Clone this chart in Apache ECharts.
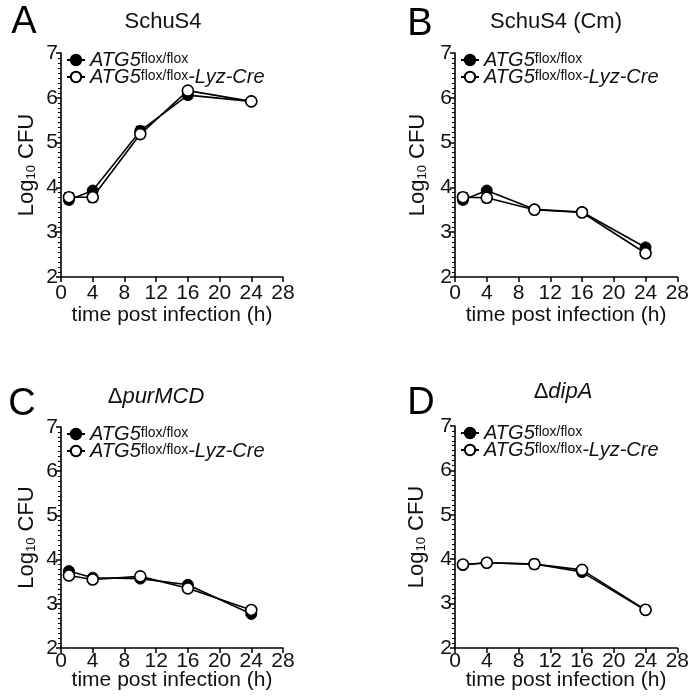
<!DOCTYPE html>
<html>
<head>
<meta charset="utf-8">
<script src="https://cdn.jsdelivr.net/npm/echarts@6/dist/echarts.min.js"></script>
<style>html,body{margin:0;padding:0;background:#fff;}#c{width:692px;height:698px;}</style>
</head>
<body>
<div id="c"></div>
<script>
// ---- data ----
const times = [1, 4, 10, 16, 24];
const xTicks = [0, 4, 8, 12, 16, 20, 24, 28];
const yTicks = [2, 3, 4, 5, 6, 7];
const panelLetters = ['A', 'B', 'C', 'D'];
const panelTitles = ['SchuS4', 'SchuS4 (Cm)', 'ΔpurMCD', 'ΔdipA'];
const seriesNames = ['ATG5 flox/flox', 'ATG5 flox/flox-Lyz-Cre'];

const aFlox = [3.72, 3.93, 5.26, 6.06, 5.92];
const aFloxErr = [0.08, 0.04, 0.10, 0.08, 0.03];
const aCre = [3.78, 3.78, 5.19, 6.16, 5.92];
const aCreErr = [0.10, 0.10, 0.08, 0.05, 0.03];

const bFlox = [3.72, 3.93, 3.51, 3.45, 2.66];
const bFloxErr = [0.08, 0.04, 0.03, 0.03, 0.03];
const bCre = [3.78, 3.77, 3.50, 3.44, 2.53];
const bCreErr = [0.10, 0.10, 0.03, 0.03, 0.03];

const cFlox = [3.74, 3.59, 3.57, 3.43, 2.77];
const cFloxErr = [0.04, 0.03, 0.03, 0.04, 0.03];
const cCre = [3.64, 3.55, 3.62, 3.35, 2.86];
const cCreErr = [0.05, 0.03, 0.03, 0.08, 0.03];

const dFlox = [3.87, 3.92, 3.89, 3.71, 2.85];
const dFloxErr = [0.05, 0.03, 0.10, 0.08, 0.03];
const dCre = [3.88, 3.92, 3.89, 3.76, 2.86];
const dCreErr = [0.05, 0.03, 0.08, 0.05, 0.08];

const panels = [
  {flox: aFlox, floxErr: aFloxErr, cre: aCre, creErr: aCreErr},
  {flox: bFlox, floxErr: bFloxErr, cre: bCre, creErr: bCreErr},
  {flox: cFlox, floxErr: cFloxErr, cre: cCre, creErr: cCreErr},
  {flox: dFlox, floxErr: dFloxErr, cre: dCre, creErr: dCreErr}
];

// ---- layout ----
const FONT = '"Liberation Sans", Arial, Helvetica, sans-serif';
const grids = [
  {left: 61, top: 53, width: 222, height: 224},
  {left: 455, top: 53, width: 223, height: 224},
  {left: 61, top: 427, width: 222, height: 221},
  {left: 455, top: 426, width: 223, height: 222}
];
const yNameGap = [23, 26, 23, 27];
const xNameGap = [28, 28, 22, 22];
const xLabelMargin = [6, 6, 3, 3];
const letterPos = [[24, 23], [420, 25], [22, 405], [421, 404]];
const titlePos = [[163, 22], [556, 22], [156, 397], [563, 392]];

const chart = echarts.init(document.getElementById('c'), null, {renderer: 'canvas'});

const xAxes = [], yAxes = [], series = [], legends = [], graphics = [];

function errRender(params, api) {
  const x = api.value(0), y = api.value(1), e = api.value(2);
  const p1 = api.coord([x, y + e]);
  const p2 = api.coord([x, y - e]);
  const hw = 4.5;
  const st = {stroke: '#000', lineWidth: 1.5};
  return {
    type: 'group',
    children: [
      {type: 'line', shape: {x1: p1[0], y1: p1[1], x2: p2[0], y2: p2[1]}, style: st},
      {type: 'line', shape: {x1: p1[0] - hw, y1: p1[1], x2: p1[0] + hw, y2: p1[1]}, style: st},
      {type: 'line', shape: {x1: p2[0] - hw, y1: p2[1], x2: p2[0] + hw, y2: p2[1]}, style: st}
    ]
  };
}

panels.forEach((p, i) => {
  xAxes.push({
    type: 'value', gridIndex: i, min: xTicks[0], max: xTicks[xTicks.length - 1], interval: 4,
    name: 'time post infection (h)', nameLocation: 'middle', nameGap: xNameGap[i], nameMoveOverlap: false,
    nameTextStyle: {fontFamily: FONT, fontSize: 21, color: '#111'},
    axisLine: {lineStyle: {color: '#000', width: 1.6}},
    axisTick: {show: true, length: 5, lineStyle: {color: '#000', width: 1.5}},
    axisLabel: {fontFamily: FONT, fontSize: 21, color: '#111', margin: xLabelMargin[i]},
    splitLine: {show: false}
  });
  yAxes.push({
    type: 'value', gridIndex: i, min: yTicks[0], max: yTicks[yTicks.length - 1], interval: 1,
    name: '{a|Log}{s|10}{a| CFU}', nameLocation: 'middle', nameGap: yNameGap[i], nameRotate: 90, nameMoveOverlap: false,
    nameTextStyle: {
      fontFamily: FONT, fontSize: 22, color: '#111',
      rich: {
        a: {fontFamily: FONT, fontSize: 22, color: '#111', lineHeight: 23},
        s: {fontFamily: FONT, fontSize: 13, color: '#111', lineHeight: 13, verticalAlign: 'bottom'}
      }
    },
    axisLine: {lineStyle: {color: '#000', width: 1.6}},
    axisTick: {show: true, length: 5, lineStyle: {color: '#000', width: 1.5}},
    minorTick: {show: true, splitNumber: 9, length: 3, lineStyle: {color: '#000', width: 1}},
    axisLabel: {fontFamily: FONT, fontSize: 21, color: '#111', margin: 3},
    splitLine: {show: false}, minorSplitLine: {show: false}
  });
  series.push({
    type: 'custom', xAxisIndex: i, yAxisIndex: i, renderItem: errRender, silent: true,
    encode: {x: 0, y: 1}, data: times.map((t, k) => [t, p.flox[k], p.floxErr[k]]), z: 1
  });
  series.push({
    type: 'custom', xAxisIndex: i, yAxisIndex: i, renderItem: errRender, silent: true,
    encode: {x: 0, y: 1}, data: times.map((t, k) => [t, p.cre[k], p.creErr[k]]), z: 1
  });
  series.push({
    type: 'line', name: seriesNames[0], xAxisIndex: i, yAxisIndex: i,
    data: times.map((t, k) => [t, p.flox[k]]),
    symbol: 'circle', symbolSize: 11, showAllSymbol: true,
    lineStyle: {color: '#000', width: 1.6},
    itemStyle: {color: '#000', borderColor: '#000', borderWidth: 1},
    z: 3
  });
  series.push({
    type: 'line', name: seriesNames[1], xAxisIndex: i, yAxisIndex: i,
    data: times.map((t, k) => [t, p.cre[k]]),
    symbol: 'circle', symbolSize: 11, showAllSymbol: true,
    lineStyle: {color: '#000', width: 1.6},
    itemStyle: {color: '#fff', borderColor: '#000', borderWidth: 1.6},
    z: 4
  });
  const g = grids[i];
  legends.push({
    data: seriesNames, orient: 'vertical', left: g.left + 5, top: g.top - 3,
    itemWidth: 18, itemHeight: 13, itemGap: -3, padding: 0, selectedMode: false,
    formatter: function (name) {
      return name === seriesNames[0] ? '{i|ATG5}{s|flox/flox}' : '{i|ATG5}{s|flox/flox}{i|-Lyz-Cre}';
    },
    textStyle: {
      fontFamily: FONT, color: '#111',
      rich: {
        i: {fontFamily: FONT, fontStyle: 'italic', fontSize: 20, lineHeight: 16, color: '#111'},
        s: {fontFamily: FONT, fontSize: 14, lineHeight: 12, color: '#111', verticalAlign: 'top'}
      }
    }
  });
  graphics.push({
    type: 'text', x: letterPos[i][0], y: letterPos[i][1],
    style: {text: panelLetters[i], fontFamily: FONT, fontSize: 38, fill: '#000', align: 'center', verticalAlign: 'middle'}
  });
  const title = panelTitles[i];
  let tText, rich = null;
  if (title.charAt(0) === 'Δ') {
    tText = '{u|Δ}{it|' + title.slice(1) + '}';
    rich = {
      u: {fontFamily: FONT, fontSize: 22, fill: '#111'},
      it: {fontFamily: FONT, fontSize: 22, fontStyle: 'italic', fill: '#111'}
    };
  } else {
    tText = title;
  }
  graphics.push({
    type: 'text', x: titlePos[i][0], y: titlePos[i][1],
    style: Object.assign({text: tText, fontFamily: FONT, fontSize: 22, fill: '#111', align: 'center', verticalAlign: 'middle'}, rich ? {rich: rich} : {})
  });
});

chart.setOption({
  backgroundColor: '#fff',
  animation: false,
  grid: grids,
  xAxis: xAxes,
  yAxis: yAxes,
  legend: legends,
  series: series,
  graphic: graphics
});
</script>
</body>
</html>
